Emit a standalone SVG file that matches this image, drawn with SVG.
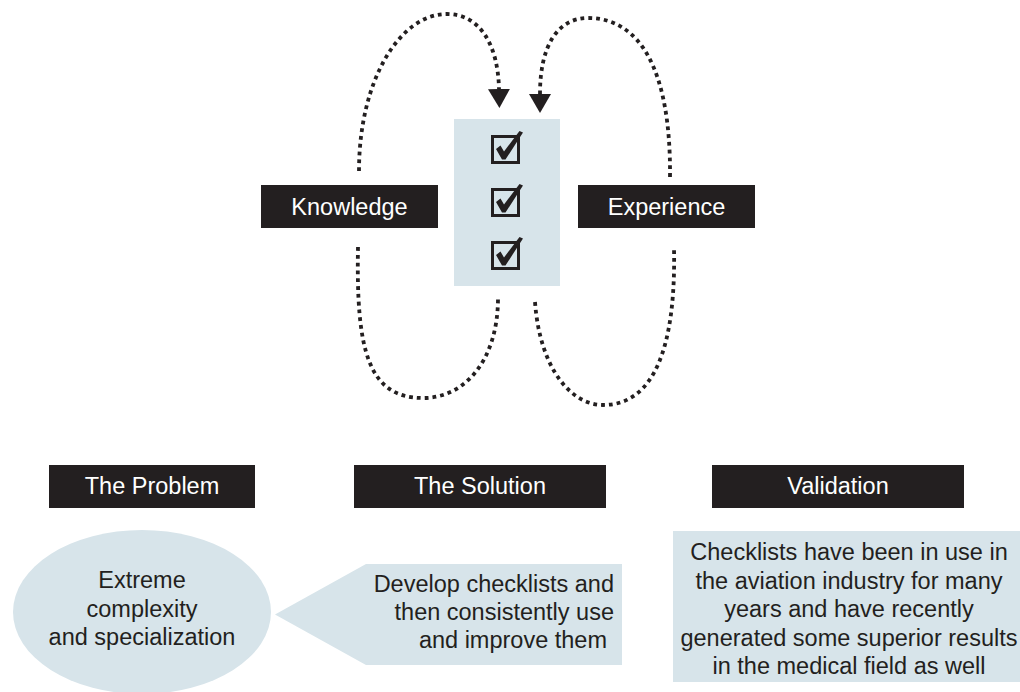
<svg xmlns="http://www.w3.org/2000/svg" width="1020" height="692" viewBox="0 0 1020 692">
<style>
  .lab { fill: #231f20; }
  .labt { fill: #ffffff; font-family: "Liberation Sans", Arial, sans-serif; font-size: 23.5px; text-anchor: middle; }
  .pale { fill: #d7e4ea; }
  .body { fill: #231f20; font-family: "Liberation Sans", Arial, sans-serif; font-size: 23.5px; }
  .mid { text-anchor: middle; }
  .end { text-anchor: end; }
  .loop { fill: none; stroke: #231f20; stroke-width: 3.8; stroke-dasharray: 3.8 4; }
  .box { fill: none; stroke: #231f20; stroke-width: 3; }
  .tick { fill: #231f20; }
</style>
<defs>
  <marker id="ah" markerUnits="userSpaceOnUse" markerWidth="19" markerHeight="22" viewBox="0 0 19 22" refX="0" refY="11" orient="auto">
    <path d="M0,0 L19,11 L0,22 z" fill="#231f20"/>
  </marker>
  <g id="cb">
    <rect class="box" x="492.5" y="136.5" width="26" height="26"/>
    <path class="tick" d="M496,149 L500.5,145.5 L504,151.5 L519.5,131 L523,132.5 L505.5,159.5 L502,159.5 z"/>
  </g>
</defs>
<rect width="1020" height="692" fill="#ffffff"/>

<g id="connectors">
  <path class="loop" d="M359,171 C359,80 400,14 447,14 C480,14 498,45 499,89" marker-end="url(#ah)"/>
  <path class="loop" d="M670,177 C671,70 640,18 588,18 C558,18 540,45 540,94" marker-end="url(#ah)"/>
  <path class="loop" d="M358,247 C356,350 368,398 423,398 C465,398 498,360 498,298"/>
  <path class="loop" d="M535,302 C540,370 572,405 603,405 C655,405 676,345 674,248"/>
</g>

<g id="checklist">
  <rect class="pale" x="454" y="119" width="106" height="167"/>
  <use id="check1" href="#cb"/>
  <use id="check2" href="#cb" transform="translate(0,53)"/>
  <use id="check3" href="#cb" transform="translate(0,106)"/>
</g>

<g id="knowledge">
  <rect class="lab" x="261" y="185" width="177" height="43"/>
  <text class="labt" x="349.5" y="215">Knowledge</text>
</g>
<g id="experience">
  <rect class="lab" x="578" y="185" width="177" height="43"/>
  <text class="labt" x="666.5" y="215">Experience</text>
</g>

<g id="problem-header">
  <rect class="lab" x="49" y="465" width="206" height="43"/>
  <text class="labt" x="152" y="494">The Problem</text>
</g>
<g id="solution-header">
  <rect class="lab" x="354" y="465" width="252" height="43"/>
  <text class="labt" x="480" y="494">The Solution</text>
</g>
<g id="validation-header">
  <rect class="lab" x="712" y="465" width="252" height="43"/>
  <text class="labt" x="838" y="494">Validation</text>
</g>

<g id="problem">
  <ellipse class="pale" cx="142" cy="612" rx="129" ry="82"/>
  <text class="body mid" x="142" y="588">Extreme</text>
  <text class="body mid" x="142" y="616.5">complexity</text>
  <text class="body mid" x="142" y="645">and specialization</text>
</g>

<g id="solution">
  <polygon class="pale" points="275,614.5 366,564 622,564 622,665 366,665"/>
  <text class="body end" x="614" y="592">Develop checklists and</text>
  <text class="body end" x="614" y="620">then consistently use</text>
  <text class="body end" x="607" y="648">and improve them</text>
</g>

<g id="validation">
  <rect class="pale" x="673" y="531" width="347" height="151"/>
  <text class="body mid" x="849" y="560">Checklists have been in use in</text>
  <text class="body mid" x="849" y="588.5">the aviation industry for many</text>
  <text class="body mid" x="849" y="617">years and have recently</text>
  <text class="body mid" x="849" y="645.5">generated some superior results</text>
  <text class="body mid" x="849" y="674">in the medical field as well</text>
</g>
</svg>
